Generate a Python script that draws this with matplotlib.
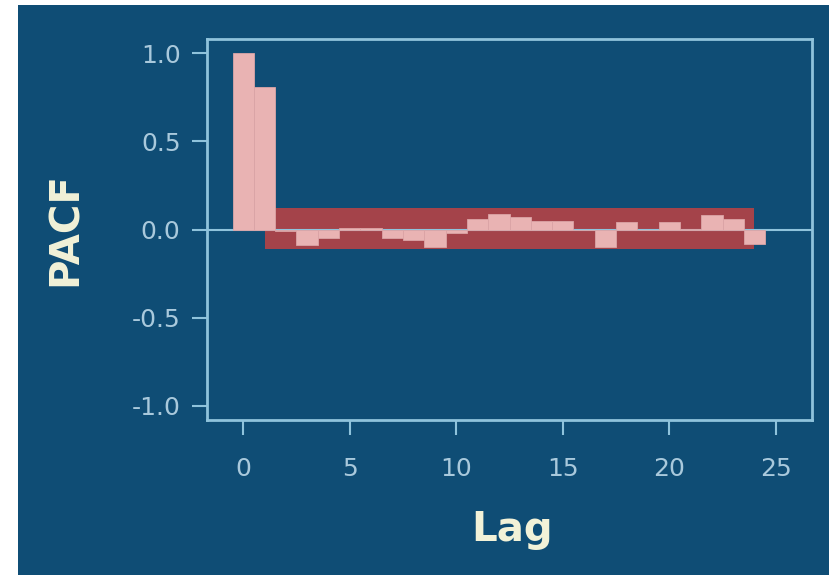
import matplotlib
matplotlib.use('Agg')
import matplotlib.pyplot as plt
from matplotlib.patches import Rectangle
import numpy as np

# PACF values, lag 0..24
lags = list(range(25))
pacf = [1.0, 0.81, -0.01, -0.09, -0.05, 0.01, 0.01, -0.05, -0.06, -0.10,
        -0.02, 0.06, 0.09, 0.07, 0.05, 0.05, 0.0, -0.10, 0.04, 0.0,
        0.04, 0.005, 0.08, 0.06, -0.08]
conf_lags = [1, 24]
conf_upper = [0.12, 0.12]
conf_lower = [-0.11, -0.11]
x_ticks = [0, 5, 10, 15, 20, 25]
y_ticks = [-1.0, -0.5, 0.0, 0.5, 1.0]

bg = '#0f4d75'
spine_col = '#8fc3dc'
tick_col = '#a9c9dc'
label_col = '#f2f2d8'

fig = plt.figure(figsize=(8.31, 5.81), dpi=100)
fig.patch.set_facecolor('white')
panel = Rectangle((18 / 831, 1 - 575 / 581), (829 - 18) / 831, (575 - 5) / 581,
                  transform=fig.transFigure, facecolor=bg, edgecolor='none', zorder=-10)
fig.add_artist(panel)

ax = fig.add_axes([207 / 831, 1 - 420 / 581, (812 - 207) / 831, (420 - 39) / 581])
ax.set_facecolor(bg)

ax.fill_between(conf_lags, conf_lower, conf_upper, color='#a4434a', lw=0, zorder=1)
ax.axhline(0, color=spine_col, lw=1.5, zorder=2)
ax.bar(lags, pacf, width=1.0, color='#e9b3b3', edgecolor='#dba4a6', lw=0.6, zorder=3)

ax.set_xlim(-1.7, 26.7)
ax.set_ylim(-1.08, 1.08)
ax.set_xticks(x_ticks)
ax.set_yticks(y_ticks)
ax.set_yticklabels(['%.1f' % v for v in y_ticks])

for s in ax.spines.values():
    s.set_color(spine_col)
    s.set_linewidth(2)

ax.tick_params(axis='both', colors=spine_col, labelcolor=tick_col, labelsize=18,
               length=11, width=1.5)
ax.tick_params(axis='y', pad=8)
ax.tick_params(axis='x', pad=16)

ax.set_xlabel('Lag', fontsize=29, fontweight='bold', color=label_col)
ax.set_ylabel('PACF', fontsize=29, fontweight='bold', color=label_col)
ax.xaxis.set_label_coords(0.505, -0.237)
ax.yaxis.set_label_coords(-0.2, 0.5)

fig.savefig('out.png', dpi=100, facecolor=fig.get_facecolor())
